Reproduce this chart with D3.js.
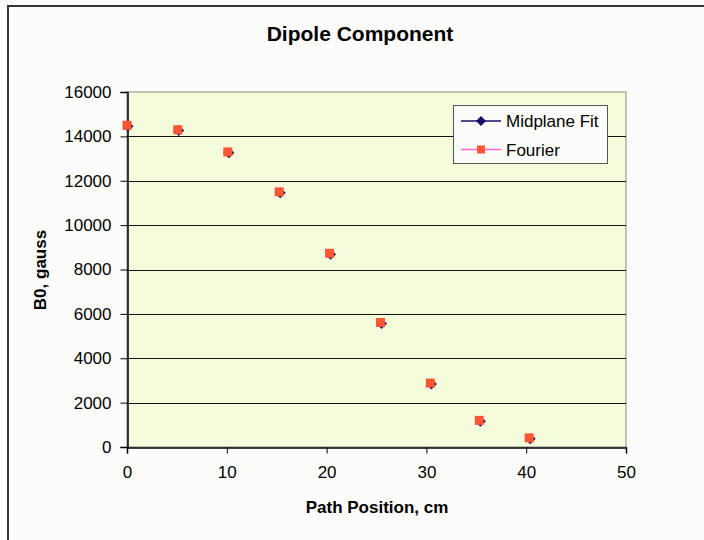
<!DOCTYPE html>
<html>
<head>
<meta charset="utf-8">
<script src="https://cdn.jsdelivr.net/npm/d3@7/dist/d3.min.js"></script>
<style>
  html, body { margin: 0; padding: 0; background: #fcfcfa; }
  svg { display: block; }
  text { font-family: "Liberation Sans", Arial, sans-serif; fill: #000; }
</style>
</head>
<body>
<svg id="chart" width="704" height="540"></svg>
<script>
// Path positions (cm) and dipole field B0 (gauss)
const fourierX = [0, 5.08, 10.1, 15.25, 20.3, 25.4, 30.4, 35.3, 40.3];
const fourierB = [14500, 14300, 13300, 11500, 8730, 5610, 2880, 1200, 410];
const midplaneX = [0.1, 5.18, 10.2, 15.35, 20.4, 25.5, 30.5, 35.4, 40.4];
const midplaneB = [14460, 14260, 13260, 11460, 8690, 5570, 2840, 1160, 370];
const xTicks = [0, 10, 20, 30, 40, 50];
const yTicks = [0, 2000, 4000, 6000, 8000, 10000, 12000, 14000, 16000];
const seriesNames = ["Midplane Fit", "Fourier"];

const svg = d3.select("#chart");

// outer chart frame
svg.append("rect")
  .attr("x", 8).attr("y", 6).attr("width", 720).attr("height", 560)
  .attr("fill", "#fcfcfa").attr("stroke", "#333").attr("stroke-width", 2);

const plot = { left: 127, top: 92, right: 626, bottom: 447 };

const x = d3.scaleLinear().domain([0, 50]).range([plot.left, plot.right]);
const y = d3.scaleLinear().domain([0, 16000]).range([plot.bottom, plot.top]);

// plot area
svg.append("rect")
  .attr("x", plot.left).attr("y", plot.top)
  .attr("width", plot.right - plot.left).attr("height", plot.bottom - plot.top)
  .attr("fill", "#f4fcdc").attr("stroke", "#8a8a8a").attr("stroke-width", 1);

// horizontal gridlines
svg.append("g")
  .selectAll("line")
  .data(yTicks.filter(d => d > 0 && d < 16000))
  .join("line")
  .attr("x1", plot.left).attr("x2", plot.right)
  .attr("y1", d => Math.round(y(d)) + 0.5).attr("y2", d => Math.round(y(d)) + 0.5)
  .attr("stroke", "#111").attr("stroke-width", 1);

// axes
const yAxis = svg.append("g")
  .attr("transform", `translate(${plot.left + 0.5},0)`)
  .call(d3.axisLeft(y).tickValues(yTicks).tickFormat(d3.format("d")).tickSizeOuter(0).tickSize(7).tickPadding(9));
const xAxis = svg.append("g")
  .attr("transform", `translate(0,${plot.bottom + 0.5})`)
  .call(d3.axisBottom(x).tickValues(xTicks).tickFormat(d3.format("d")).tickSizeOuter(0).tickSize(6).tickPadding(12));

[xAxis, yAxis].forEach(a => {
  a.select(".domain").attr("stroke", "#000").attr("stroke-width", 1.5);
  a.selectAll(".tick line").attr("stroke", "#000");
  a.selectAll(".tick text")
    .attr("font-family", "Liberation Sans, Arial, sans-serif")
    .attr("font-size", 17).attr("fill", "#000");
});

// markers: diamonds (midplane fit) underneath squares (Fourier)
const diamond = s => `M0,${-s}L${s},0L0,${s}L${-s},0Z`;
svg.append("g")
  .selectAll("path")
  .data(midplaneX.map((d, i) => [d, midplaneB[i]]))
  .join("path")
  .attr("transform", d => `translate(${x(d[0])},${y(d[1])})`)
  .attr("d", diamond(5.5))
  .attr("fill", "#1a0a6e");

svg.append("g")
  .selectAll("rect")
  .data(fourierX.map((d, i) => [d, fourierB[i]]))
  .join("rect")
  .attr("x", d => x(d[0]) - 4.5).attr("y", d => y(d[1]) - 4.5)
  .attr("width", 9).attr("height", 9)
  .attr("fill", "#ff5533");

// title and axis titles
svg.append("text")
  .attr("x", 360).attr("y", 41).attr("text-anchor", "middle")
  .attr("font-size", 21).attr("font-weight", "bold")
  .text("Dipole Component");
svg.append("text")
  .attr("x", 377).attr("y", 513).attr("text-anchor", "middle")
  .attr("font-size", 17).attr("font-weight", "bold")
  .text("Path Position, cm");
svg.append("text")
  .attr("transform", "translate(46,270) rotate(-90)").attr("text-anchor", "middle")
  .attr("font-size", 17).attr("font-weight", "bold")
  .text("B0, gauss");

// legend
const lg = svg.append("g");
lg.append("rect")
  .attr("x", 453.5).attr("y", 105.5).attr("width", 154).attr("height", 58)
  .attr("fill", "#fcfcfa").attr("stroke", "#555").attr("stroke-width", 1);
const lineColors = ["#1a0a6e", "#ff66cc"];
seriesNames.forEach((name, i) => {
  const ly = 121 + i * 28.5;
  lg.append("line")
    .attr("x1", 461).attr("x2", 501).attr("y1", ly).attr("y2", ly)
    .attr("stroke", lineColors[i]).attr("stroke-width", 1.5);
  if (i === 0) {
    lg.append("path").attr("transform", `translate(481,${ly})`)
      .attr("d", diamond(5)).attr("fill", "#1a0a6e");
  } else {
    lg.append("rect").attr("x", 477).attr("y", ly - 4).attr("width", 8).attr("height", 8)
      .attr("fill", "#ff5533");
  }
  lg.append("text")
    .attr("x", 506).attr("y", ly + 6)
    .attr("font-size", 17)
    .text(name);
});
</script>
</body>
</html>
